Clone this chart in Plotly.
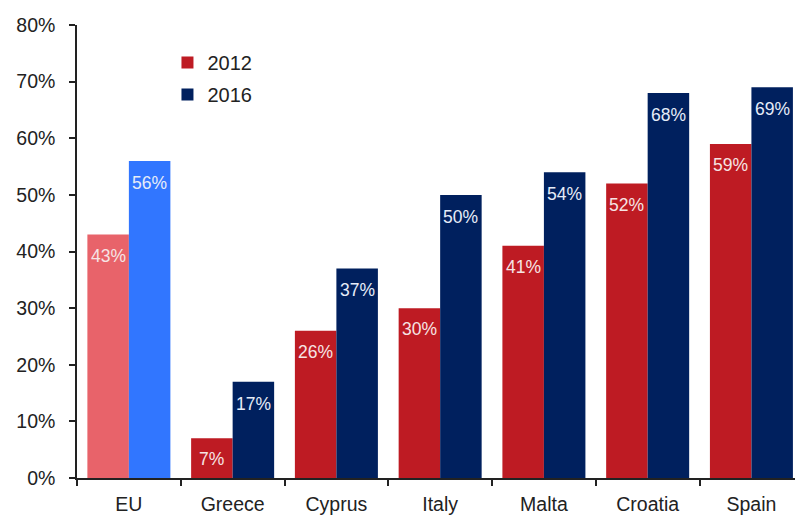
import plotly.graph_objects as go

countries = ["EU", "Greece", "Cyprus", "Italy", "Malta", "Croatia", "Spain"]
share_2012 = [43, 7, 26, 30, 41, 52, 59]
share_2016 = [56, 17, 37, 50, 54, 68, 69]
y_ticks = [0, 10, 20, 30, 40, 50, 60, 70, 80]

RED = "#BE1B23"
NAVY = "#00205E"
EU_RED = "#E8636A"
EU_BLUE = "#3176FF"
FONT = "Liberation Sans, Arial, sans-serif"

fig = go.Figure()

# Member states (2012 / 2016) in the standard palette
fig.add_trace(go.Bar(
    x=countries[1:], y=share_2012[1:], name="2012",
    marker=dict(color=RED, line=dict(width=0)),
    offsetgroup="a", legendgroup="a",
))
fig.add_trace(go.Bar(
    x=countries[1:], y=share_2016[1:], name="2016",
    marker=dict(color=NAVY, line=dict(width=0)),
    offsetgroup="b", legendgroup="b",
))
# EU average highlighted in lighter shades
fig.add_trace(go.Bar(
    x=countries[:1], y=share_2012[:1], name="2012",
    marker=dict(color=EU_RED, line=dict(width=0)),
    offsetgroup="a", showlegend=False,
))
fig.add_trace(go.Bar(
    x=countries[:1], y=share_2016[:1], name="2016",
    marker=dict(color=EU_BLUE, line=dict(width=0)),
    offsetgroup="b", showlegend=False,
))

# Value labels just inside the top of each bar
half = 20.75
for c, v in zip(countries, share_2012):
    fig.add_annotation(x=c, y=v, text=f"{v}%", showarrow=False,
                       xshift=-half, yshift=-9, yanchor="top",
                       font=dict(family=FONT, size=17.5, color="#F6E4E4"))
for c, v in zip(countries, share_2016):
    fig.add_annotation(x=c, y=v, text=f"{v}%", showarrow=False,
                       xshift=half, yshift=-10, yanchor="top",
                       font=dict(family=FONT, size=17.5, color="#E6ECF8"))

fig.update_layout(
    width=795, height=515,
    margin=dict(l=77, r=0, t=25, b=37),
    paper_bgcolor="white", plot_bgcolor="white",
    barmode="group", bargap=0.2, bargroupgap=0,
    font=dict(family=FONT, size=19, color="#222222"),
    showlegend=True,
    legend=dict(x=0.126, y=0.96, xanchor="left", yanchor="top",
                bgcolor="rgba(0,0,0,0)", tracegroupgap=3,
                font=dict(family=FONT, size=20, color="#222222")),
    xaxis=dict(
        categoryorder="array", categoryarray=countries,
        range=[-0.5, 6.42], showgrid=False, zeroline=False,
        showline=True, linecolor="#222222", linewidth=1.5,
        ticks="outside", tickson="boundaries", ticklen=6,
        tickcolor="#222222", tickwidth=1.5, ticklabelstandoff=8,
        tickfont=dict(family=FONT, size=19.5, color="#222222"),
    ),
    yaxis=dict(
        range=[0, 80], tickvals=y_ticks,
        ticktext=[f"{t}%" for t in y_ticks],
        showgrid=False, zeroline=False,
        showline=True, linecolor="#222222", linewidth=1.5,
        ticks="outside", ticklen=6, tickcolor="#222222", tickwidth=1.5,
        ticklabelstandoff=10,
        tickfont=dict(family=FONT, size=19.5, color="#222222"),
    ),
)

fig.write_html("out.html")
